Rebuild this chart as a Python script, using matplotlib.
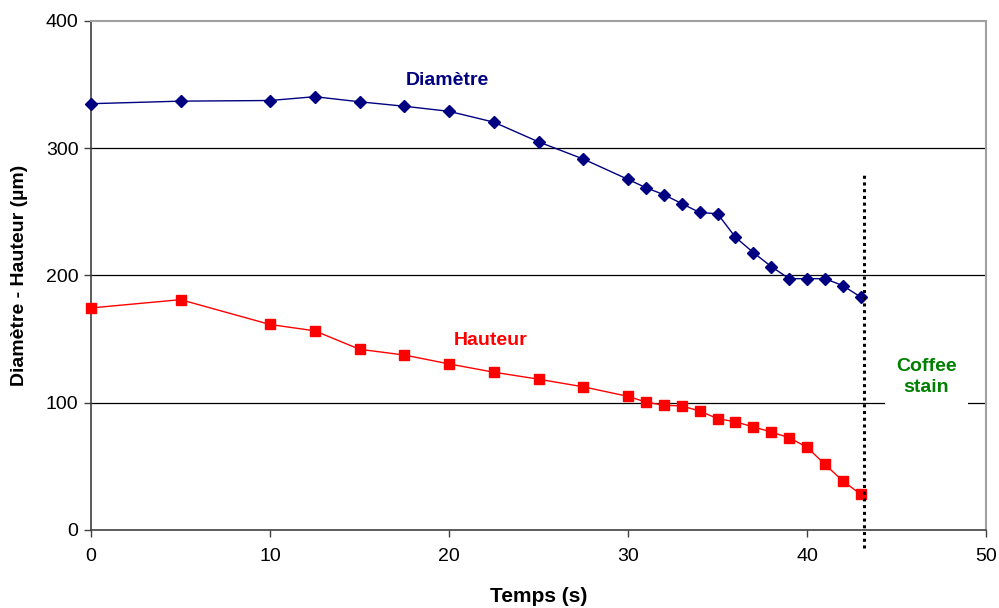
import matplotlib
matplotlib.use('Agg')
import matplotlib.pyplot as plt

plt.rcParams['font.family'] = ['Liberation Sans', 'DejaVu Sans']

# temps (s)
temps_d = [0, 5, 10, 12.5, 15, 17.5, 20, 22.5, 25, 27.5, 30, 31, 32, 33, 34, 35,
           36, 37, 38, 39, 40, 41, 42, 43]
diametre = [335, 337, 337.5, 340.5, 336.5, 333, 329, 320.5, 305, 291.5, 275.5, 269,
            263.5, 256.5, 249.5, 248.5, 230, 218, 207, 197.5, 197.5, 197.5, 192, 183]

temps_h = [0, 5, 10, 12.5, 15, 17.5, 20, 22.5, 25, 27.5, 30, 31, 32, 33, 34, 35,
           36, 37, 38, 39, 40, 41, 42, 43]
hauteur = [174.5, 181, 161.5, 156.5, 142, 137.5, 130.5, 124, 118.5, 112.5, 105, 100.5,
           98, 97.5, 93.5, 87.5, 85, 81, 77, 72.5, 65, 51.5, 38.5, 28]

x_ticks = [0, 10, 20, 30, 40, 50]
y_ticks = [0, 100, 200, 300, 400]
stain_time = 43.2

fig = plt.figure(figsize=(9.99, 6.08), dpi=100)
ax = fig.add_axes([0.0911, 0.1283, 0.896, 0.8372])

for y in [100, 200, 300]:
    ax.axhline(y, color='black', lw=0.9, zorder=1)

ax.plot(temps_d, diametre, color='#000080', lw=1.0, marker='D', ms=6.5,
        mfc='#000080', mec='#000080', clip_on=False, zorder=3)
ax.plot(temps_h, hauteur, color='#ff0000', lw=1.0, marker='s', ms=7.5,
        mfc='#ff0000', mec='#ff0000', clip_on=False, zorder=3)

ax.plot([stain_time, stain_time], [-14, 281], color='black', lw=2.2,
        ls=(0, (1, 1.2)), clip_on=False, zorder=4)

ax.text(19.9, 353, 'Diamètre', color='#000080', fontsize=14, fontweight='bold',
        ha='center', va='center')
ax.text(22.3, 149, 'Hauteur', color='#ff0000', fontsize=14, fontweight='bold',
        ha='center', va='center')
ax.text(46.65, 120, 'Coffee\nstain', color='#008000', fontsize=14, fontweight='bold',
        ha='center', va='center', linespacing=1.3,
        bbox=dict(facecolor='white', edgecolor='none', pad=8), zorder=5)

ax.set_xlim(0, 50)
ax.set_ylim(0, 400)
ax.set_xticks(x_ticks)
ax.set_yticks(y_ticks)
ax.tick_params(direction='out', length=5, width=1, colors='#404040',
               labelcolor='black', labelsize=14, pad=8)
ax.tick_params(axis='y', pad=4)

for s in ['left', 'bottom']:
    ax.spines[s].set_color('#404040')
    ax.spines[s].set_linewidth(1.2)
for s in ['top', 'right']:
    ax.spines[s].set_color('#a0a0a0')
    ax.spines[s].set_linewidth(1.5)

ax.set_xlabel('Temps (s)', fontsize=15, fontweight='bold', labelpad=16)
ax.set_ylabel('Diamètre - Hauteur (µm)', fontsize=14, fontweight='bold', labelpad=13)

fig.savefig('out.png', dpi=100)
